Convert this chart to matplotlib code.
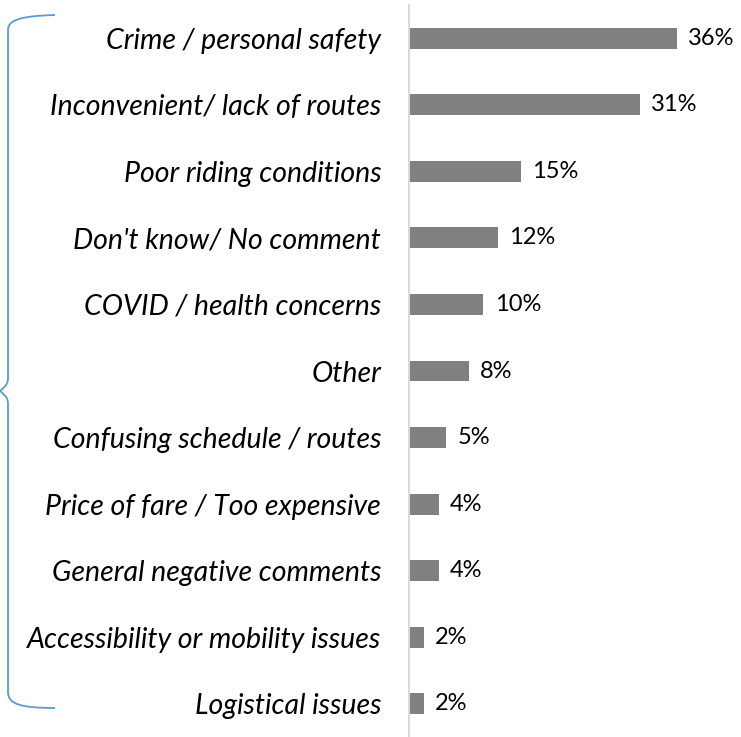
import matplotlib.pyplot as plt
from matplotlib.path import Path
from matplotlib.patches import PathPatch

#-- data
reasons = ['Crime / personal safety', 'Inconvenient/ lack of routes',
           'Poor riding conditions', "Don't know/ No comment",
           'COVID / health concerns', 'Other', 'Confusing schedule / routes',
           'Price of fare / Too expensive', 'General negative comments',
           'Accessibility or mobility issues', 'Logistical issues']
shares = [36, 31, 15, 12, 10, 8, 5, 4, 4, 2, 2]
value_labels = ['%d%%' % s for s in shares]

plt.rcParams['font.family'] = ['Lato', 'DejaVu Sans']

W, H = 741, 737
fig = plt.figure(figsize=(W/100, H/100), dpi=100)

#-- axes placed in pixel units: axis line at x=409, spans y=5..737
ax = fig.add_axes([409/W, 0, (W-409)/W, 732/H])

ypos = list(range(len(reasons)))
bars = ax.barh(ypos, shares, height=0.315, color='#808080')
ax.set_xlim(0, 44.6)
ax.set_ylim(len(reasons)-0.5, -0.5)

ax.set_yticks(ypos)
ax.set_yticklabels(reasons, fontsize=20.5, style='italic')
ax.tick_params(axis='y', length=0, pad=20)
ax.set_xticks([])

for s in ['top', 'right', 'bottom']:
    ax.spines[s].set_visible(False)
ax.spines['left'].set_color('#d9d9d9')
ax.spines['left'].set_linewidth(1.5)

ax.bar_label(bars, labels=value_labels, padding=8, fontsize=17)

#-- blue curly brace on the left (pixel coords, y measured from top)
pts = [(55, 15), (20, 16), (8, 20), (8, 30),
       (8, 378), (8, 386), (3, 388), (0, 391),
       (3, 394), (8, 396), (8, 404),
       (8, 692), (8, 704), (20, 708), (55, 708)]
codes = [Path.MOVETO, Path.CURVE4, Path.CURVE4, Path.CURVE4,
         Path.LINETO, Path.CURVE4, Path.CURVE4, Path.CURVE4,
         Path.CURVE4, Path.CURVE4, Path.CURVE4,
         Path.LINETO, Path.CURVE4, Path.CURVE4, Path.CURVE4]
verts = [(x/W, 1 - y/H) for x, y in pts]
brace = PathPatch(Path(verts, codes), transform=fig.transFigure,
                  fill=False, edgecolor='#5b9bd5', linewidth=1.3)
fig.patches.append(brace)

fig.savefig('out.png', dpi=100)
